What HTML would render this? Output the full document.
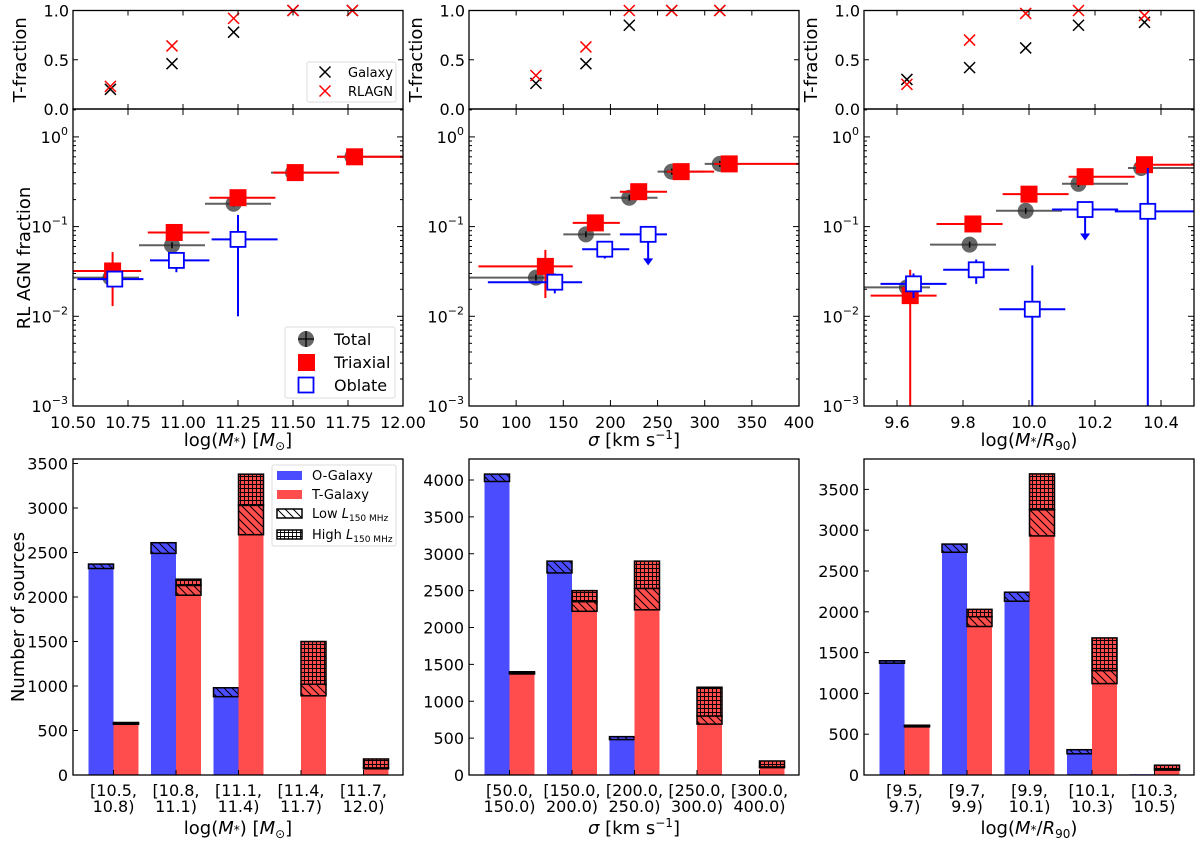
<!DOCTYPE html>
<html><head><meta charset="utf-8"><style>
body{margin:0;background:#fff}
svg{display:block;font-family:"DejaVu Sans","Liberation Sans",sans-serif}
</style></head><body>
<svg id="fig" width="1200" height="841" viewBox="0 0 1200 841" xmlns="http://www.w3.org/2000/svg">
<defs>
<pattern id="hatchD" patternUnits="userSpaceOnUse" width="8" height="8"><path d="M-2,-2 L10,10 M-2,6 L2,10 M6,-2 L10,2" stroke="#000" stroke-width="1"/></pattern>
<pattern id="hatchG" patternUnits="userSpaceOnUse" width="4" height="4"><path d="M0,0.5 H4 M0.5,0 V4" stroke="#000" stroke-width="0.9"/></pattern>
</defs>
<g id="root"></g>
</svg>
<script>
// ---------- data ----------
const tfX1=[10.67,10.95,11.23,11.5,11.77], tfGal1=[0.2,0.46,0.78,1.0,1.0], tfAgn1=[0.23,0.64,0.92,1.0,1.0];
const tfX2=[121,174,220,265,316], tfGal2=[0.26,0.46,0.85,1.0,1.0], tfAgn2=[0.34,0.63,1.0,1.0,1.0];
const tfX3=[9.63,9.82,9.99,10.15,10.35], tfGal3=[0.3,0.42,0.62,0.85,0.88], tfAgn3=[0.25,0.70,0.97,1.0,0.95];

// middle panels: x, y, xlo, xhi, ylo, yhi
const totX1=[10.67,10.95,11.23,11.5,11.77], totY1=[0.027,0.062,0.18,0.40,0.60], totXlo1=[10.5,10.8,11.1,11.4,11.7], totXhi1=[10.8,11.1,11.4,11.7,12.0];
const triX1=[10.68,10.96,11.25,11.51,11.78], triY1=[0.032,0.086,0.21,0.40,0.60], triXlo1=[10.5,10.84,11.12,11.41,11.7], triXhi1=[10.81,11.12,11.42,11.71,12.1], triYlo1=[0.013,0.075,0.19,0.37,0.52], triYhi1=[0.052,0.1,0.23,0.43,0.66];
const obX1=[10.69,10.97,11.25], obY1=[0.026,0.042,0.072], obXlo1=[10.52,10.85,11.13], obXhi1=[10.82,11.12,11.43], obYlo1=[0.024,0.031,0.01], obYhi1=[0.028,0.05,0.135], obUp1=[0,0,0];

const totX2=[121,174,220,265,316], totY2=[0.027,0.082,0.21,0.41,0.5], totXlo2=[50,150,200,250,300], totXhi2=[150,200,250,300,330];
const triX2=[131,184,230,275,326], triY2=[0.036,0.11,0.245,0.41,0.5], triXlo2=[60,160,210,260,310], triXhi2=[160,210,260,310,400], triYlo2=[0.016,0.1,0.23,0.39,0.46], triYhi2=[0.055,0.12,0.26,0.43,0.54];
const obX2=[141,194,240], obY2=[0.024,0.056,0.082], obXlo2=[70,170,210], obXhi2=[170,220,260], obYlo2=[0.018,0.044,0.037], obYhi2=[0.03,0.06,0.082], obUp2=[0,0,1];

const totX3=[9.63,9.82,9.99,10.15,10.34], totY3=[0.021,0.063,0.15,0.30,0.45], totXlo3=[9.5,9.7,9.9,10.1,10.3], totXhi3=[9.7,9.9,10.1,10.3,10.5];
const triX3=[9.64,9.83,10.0,10.17,10.35], triY3=[0.017,0.107,0.23,0.36,0.49], triXlo3=[9.52,9.72,9.92,10.12,10.32], triXhi3=[9.72,9.92,10.12,10.32,10.6], triYlo3=[0.0005,0.1,0.21,0.34,0.46], triYhi3=[0.033,0.115,0.25,0.38,0.52];
const obX3=[9.65,9.84,10.01,10.17,10.36], obY3=[0.023,0.033,0.012,0.155,0.148], obXlo3=[9.55,9.74,9.91,10.07,10.26], obXhi3=[9.75,9.94,10.11,10.27,10.6], obYlo3=[0.016,0.023,0.0005,0.07,0.0005], obYhi3=[0.03,0.043,0.037,0.155,0.45], obUp3=[0,0,0,1,0];

// bottom bar panels
const cats1=[["[10.5,","10.8)"],["[10.8,","11.1)"],["[11.1,","11.4)"],["[11.4,","11.7)"],["[11.7,","12.0)"]];
const oBase1=[2320,2490,880,0,0], oLow1=[50,120,100,0,0], tBase1=[570,2020,2700,890,70], tLow1=[10,110,330,130,10], tHigh1=[10,70,350,480,100];
const cats2=[["[50.0,","150.0)"],["[150.0,","200.0)"],["[200.0,","250.0)"],["[250.0,","300.0)"],["[300.0,","400.0)"]];
const oBase2=[3980,2740,480,5,5], oLow2=[100,160,40,0,0], tBase2=[1370,2220,2240,690,100], tLow2=[15,130,290,110,10], tHigh2=[15,150,370,390,80];
const cats3=[["[9.5,","9.7)"],["[9.7,","9.9)"],["[9.9,","10.1)"],["[10.1,","10.3)"],["[10.3,","10.5)"]];
const oBase3=[1370,2730,2130,260,10], oLow3=[30,100,110,50,0], tBase3=[590,1820,2930,1120,60], tLow3=[10,120,320,160,5], tHigh3=[10,90,440,400,55];

const xTicks1=[10.5,10.75,11.0,11.25,11.5,11.75,12.0], xTickLab1=["10.50","10.75","11.00","11.25","11.50","11.75","12.00"];
const xTicks2=[50,100,150,200,250,300,350,400], xTickLab2=["50","100","150","200","250","300","350","400"];
const xTicks3=[9.6,9.8,10.0,10.2,10.4], xTickLab3=["9.6","9.8","10.0","10.2","10.4"];
const barTicks1=[0,500,1000,1500,2000,2500,3000,3500];
const barTicks2=[0,500,1000,1500,2000,2500,3000,3500,4000];
const barTicks3=[0,500,1000,1500,2000,2500,3000,3500];

// ---------- layout ----------
const NS="http://www.w3.org/2000/svg";
const root=document.getElementById('root');
const X0=[73,469,864], W=330;
const XMIN=[10.5,50,9.5], XMAX=[12.0,400,10.5];
const TT=10.5, TB=109, MB=406, DEC=89.7, BT=459, BB=775;
const BSC=[0.089,0.07375,0.0816];
function el(tag,attrs,parent){const e=document.createElementNS(NS,tag);for(const k in attrs)e.setAttribute(k,attrs[k]);(parent||root).appendChild(e);return e;}
function txt(s,x,y,size,anchor,parent){const t=el('text',{x:x,y:y,'font-size':size,'text-anchor':anchor||'middle',fill:'#000'},parent);t.textContent=s;return t;}
function xs(c,v){return X0[c]+(v-XMIN[c])/(XMAX[c]-XMIN[c])*W;}
function ty(v){return TB-v*(TB-TT);}
function ly(v){return MB-(Math.log10(v)+3)*DEC;}
function by(c,v){return BB-v*BSC[c];}

const TF=[[tfX1,tfGal1,tfAgn1],[tfX2,tfGal2,tfAgn2],[tfX3,tfGal3,tfAgn3]];
const TOT=[[totX1,totY1,totXlo1,totXhi1],[totX2,totY2,totXlo2,totXhi2],[totX3,totY3,totXlo3,totXhi3]];
const TRI=[[triX1,triY1,triXlo1,triXhi1,triYlo1,triYhi1],[triX2,triY2,triXlo2,triXhi2,triYlo2,triYhi2],[triX3,triY3,triXlo3,triXhi3,triYlo3,triYhi3]];
const OB=[[obX1,obY1,obXlo1,obXhi1,obYlo1,obYhi1,obUp1],[obX2,obY2,obXlo2,obXhi2,obYlo2,obYhi2,obUp2],[obX3,obY3,obXlo3,obXhi3,obYlo3,obYhi3,obUp3]];
const XT=[[xTicks1,xTickLab1],[xTicks2,xTickLab2],[xTicks3,xTickLab3]];
const BARS=[[cats1,oBase1,oLow1,tBase1,tLow1,tHigh1,barTicks1],[cats2,oBase2,oLow2,tBase2,tLow2,tHigh2,barTicks2],[cats3,oBase3,oLow3,tBase3,tLow3,tHigh3,barTicks3]];

function cross(x,y,col,g){const s=5.5;el('path',{d:`M${x-s},${y-s}L${x+s},${y+s}M${x-s},${y+s}L${x+s},${y-s}`,stroke:col,'stroke-width':1.5,fill:'none'},g);}
function clipRect(id,x,y,w,h){const cp=el('clipPath',{id:id});el('rect',{x:x,y:y,width:w,height:h},cp);}

for(let c=0;c<3;c++){
  const x0=X0[c];
  // ----- top T-fraction panel -----
  clipRect('ct'+c,x0,TT-8,W,TB-TT+8);
  const gt=el('g',{});
  
  
  const gm=el('g',{'clip-path':`url(#ct${c})`},gt);
  const [tx,tg,ta]=TF[c];
  for(let i=0;i<tx.length;i++){
    const g1=el('g',{},gm);
    cross(xs(c,tx[i]),ty(tg[i]),'#000',g1);
    const g2=el('g',{},gm);
    cross(xs(c,tx[i]),ty(ta[i]),'#ff0000',g2);
  }
  el('rect',{x:x0,y:TT,width:W,height:TB-TT,fill:'none',stroke:'#000','stroke-width':1.3},gt);
  [0,0.5,1.0].forEach((v,i)=>{const y=ty(v);el('line',{x1:x0,y1:y,x2:x0+5,y2:y,stroke:'#000'},gt);el('line',{x1:x0+W,y1:y,x2:x0+W-5,y2:y,stroke:'#000'},gt);
    txt(['0.0','0.5','1.0'][i],x0-4,y+6,16,'end',gt);});
  XT[c][0].forEach(v=>{const x=xs(c,v);el('line',{x1:x,y1:TB,x2:x,y2:TB-5,stroke:'#000'},gt);el('line',{x1:x,y1:TT,x2:x,y2:TT+5,stroke:'#000'},gt);});
  const yl=txt('T-fraction',0,0,18,'middle',gt);yl.setAttribute('transform',`translate(${x0-47},${(TT+TB)/2}) rotate(-90)`);
  

  // ----- middle RL AGN panel -----
  clipRect('cm'+c,x0,TB,W,MB-TB);
  const gmid=el('g',{});
  
  
  const gc=el('g',{'clip-path':`url(#cm${c})`},gmid);
  // total
  const [ox,oy,oxl,oxh]=TOT[c];
  for(let i=0;i<ox.length;i++){
    const g=el('g',{},gc);
    const y=ly(oy[i]);
    el('line',{x1:xs(c,oxl[i]),y1:y,x2:xs(c,oxh[i]),y2:y,stroke:'#444','stroke-width':2,opacity:0.85},g);
    el('circle',{cx:xs(c,ox[i]),cy:y,r:8,fill:'#333',opacity:0.75},g);
    el('line',{x1:xs(c,ox[i]),y1:y-3,x2:xs(c,ox[i]),y2:y+3,stroke:'#000','stroke-width':1.5},g);
  }
  const [rx,ry,rxl,rxh,ryl,ryh]=TRI[c];
  for(let i=0;i<rx.length;i++){
    const g=el('g',{},gc);
    const x=xs(c,rx[i]),y=ly(ry[i]);
    el('line',{x1:xs(c,rxl[i]),y1:y,x2:xs(c,rxh[i]),y2:y,stroke:'#ff0000','stroke-width':2},g);
    el('line',{x1:x,y1:ly(ryl[i]),x2:x,y2:ly(ryh[i]),stroke:'#ff0000','stroke-width':2},g);
    el('rect',{x:x-8.5,y:y-8.5,width:17,height:17,fill:'#ff0000'},g);
  }
  const [bx,byy,bxl,bxh,byl,byh,bup]=OB[c];
  for(let i=0;i<bx.length;i++){
    const g=el('g',{},gc);
    const x=xs(c,bx[i]),y=ly(byy[i]);
    el('line',{x1:xs(c,bxl[i]),y1:y,x2:xs(c,bxh[i]),y2:y,stroke:'#0000ff','stroke-width':2},g);
    if(bup[i]){const yb=ly(byl[i]);
      el('line',{x1:x,y1:y,x2:x,y2:yb-6,stroke:'#0000ff','stroke-width':2},g);
      el('path',{d:`M${x-5},${yb-7}L${x+5},${yb-7}L${x},${yb}Z`,fill:'#0000ff'},g);
    } else el('line',{x1:x,y1:ly(byl[i]),x2:x,y2:ly(byh[i]),stroke:'#0000ff','stroke-width':2},g);
    el('rect',{x:x-7.5,y:y-7.5,width:15,height:15,fill:'#fff',stroke:'#0000ff','stroke-width':1.8},g);
  }
  el('rect',{x:x0,y:TB,width:W,height:MB-TB,fill:'none',stroke:'#000','stroke-width':1.3},gmid);
  for(let d=-3;d<=0;d++){
    const y=ly(Math.pow(10,d));
    el('line',{x1:x0,y1:y,x2:x0+6,y2:y,stroke:'#000'},gmid);el('line',{x1:x0+W,y1:y,x2:x0+W-6,y2:y,stroke:'#000'},gmid);
    const t=el('text',{x:x0-5,y:y+6,'font-size':16,'text-anchor':'end'},gmid);
    t.innerHTML='10<tspan dy="-8" font-size="11">'+(d<0?'\u2212'+(-d):'0')+'</tspan>';
    for(let m=2;m<=9;m++){const v=m*Math.pow(10,d);if(v>2.05)break;const ym=ly(v);
      el('line',{x1:x0,y1:ym,x2:x0+3,y2:ym,stroke:'#000'},gmid);el('line',{x1:x0+W,y1:ym,x2:x0+W-3,y2:ym,stroke:'#000'},gmid);}
  }
  XT[c][0].forEach((v,i)=>{const x=xs(c,v);el('line',{x1:x,y1:MB,x2:x,y2:MB-6,stroke:'#000'},gmid);el('line',{x1:x,y1:TB,x2:x,y2:TB+6,stroke:'#000'},gmid);
    txt(XT[c][1][i],x,MB+22,16,'middle',gmid);});
  // x titles
  const xt=el('text',{x:x0+W/2,y:446,'font-size':18,'text-anchor':'middle'},gmid);
  
  if(c===0) xt.innerHTML='log(<tspan font-style="italic">M</tspan><tspan font-size="12">*</tspan>) [<tspan font-style="italic">M</tspan><tspan font-size="12" dy="4">⊙</tspan><tspan dy="-4">]</tspan>';
  else if(c===1) xt.innerHTML='<tspan font-style="italic">σ</tspan> [km s<tspan dy="-7" font-size="12">−1</tspan><tspan dy="7">]</tspan>';
  else xt.innerHTML='log(<tspan font-style="italic">M</tspan><tspan font-size="12">*</tspan>/<tspan font-style="italic">R</tspan><tspan font-size="12" dy="4">90</tspan><tspan dy="-4">)</tspan>';

  // ----- bottom bar panel -----
  const [cats,oB,oL,tB,tL,tH,bt]=BARS[c];
  const gb=el('g',{});
  
  
  function seg(x,v0,v1,fill,pat,edge,name){
    if(v1<=v0) return;
    const y1=by(c,v1),y0=by(c,v0);
    const r=el('rect',{x:x,y:y1,width:25,height:y0-y1,fill:fill},gb);
    
    if(pat) el('rect',{x:x,y:y1,width:25,height:y0-y1,fill:`url(#${pat})`,stroke:'#000','stroke-width':1.5},gb);
  }
  for(let i=0;i<5;i++){
    const cx=x0+40.5+62.5*i;
    const xb=cx-25, xr=cx;
    seg(xb,0,oB[i],'#4c4cff',null,false,'o-galaxy-bar');
    seg(xb,oB[i],oB[i]+oL[i],'#4c4cff','hatchD',true,'o-galaxy-low-bar');
    seg(xr,0,tB[i],'#ff4c4c',null,false,'t-galaxy-bar');
    seg(xr,tB[i],tB[i]+tL[i],'#ff4c4c','hatchD',true,'t-galaxy-low-bar');
    seg(xr,tB[i]+tL[i],tB[i]+tL[i]+tH[i],'#ff4c4c','hatchG',true,'t-galaxy-high-bar');
    el('line',{x1:cx,y1:BB,x2:cx,y2:BB-5,stroke:'#000'},gb);
    txt(cats[i][0],cx,BB+21,16,'middle',gb);txt(cats[i][1],cx,BB+37,16,'middle',gb);
  }
  el('rect',{x:x0,y:BT,width:W,height:BB-BT,fill:'none',stroke:'#000','stroke-width':1.3},gb);
  bt.forEach(v=>{const y=by(c,v);el('line',{x1:x0,y1:y,x2:x0+5,y2:y,stroke:'#000'},gb);txt(String(v),x0-5,y+6,16,'end',gb);});
  const bx2=el('text',{x:x0+W/2,y:834,'font-size':18,'text-anchor':'middle'},gb);
  
  bx2.innerHTML=xt.innerHTML;
}
// y titles
let t=txt('RL AGN fraction',0,0,18,'middle');t.setAttribute('transform','translate(30,258) rotate(-90)');

t=txt('Number of sources',0,0,18,'middle');t.setAttribute('transform','translate(24,617) rotate(-90)');


// legends
let lg=el('g',{});
el('rect',{x:307,y:62,width:89,height:40,fill:'#fff',stroke:'#ddd',rx:2},lg);
cross(325,72,'#000',lg);txt('Galaxy',348,77,13,'start',lg);
cross(325,91,'#ff0000',lg);txt('RLAGN',348,96,13,'start',lg);

lg=el('g',{});
el('rect',{x:285,y:327,width:110,height:71,fill:'#fff',stroke:'#ddd',rx:2},lg);
el('circle',{cx:306,cy:339,r:8,fill:'#333',opacity:0.75},lg);
el('path',{d:'M306,331V347M298,339H314',stroke:'#000','stroke-width':1.3},lg);
txt('Total',334,345,16,'start',lg);
el('rect',{x:298,y:354,width:17,height:17,fill:'#ff0000'},lg);txt('Triaxial',334,368,16,'start',lg);
el('rect',{x:298.5,y:377.5,width:15,height:15,fill:'#fff',stroke:'#0000ff','stroke-width':1.8},lg);txt('Oblate',334,391,16,'start',lg);

lg=el('g',{});
el('rect',{x:272,y:465,width:124,height:81,fill:'#fff',stroke:'#ddd',rx:2},lg);
el('rect',{x:277,y:471,width:25,height:9,fill:'#4c4cff'},lg);txt('O-Galaxy',312,480,13,'start',lg);
el('rect',{x:277,y:490,width:25,height:9,fill:'#ff4c4c'},lg);txt('T-Galaxy',312,499,13,'start',lg);
el('rect',{x:277,y:509,width:25,height:9,fill:'url(#hatchD)',stroke:'#000','stroke-width':1.5},lg);
let lt=el('text',{x:312,y:518,'font-size':13},lg);lt.innerHTML='Low <tspan font-style="italic">L</tspan><tspan font-size="9" dy="3">150 MHz</tspan>';
el('rect',{x:277,y:530,width:25,height:9,fill:'url(#hatchG)',stroke:'#000','stroke-width':1.5},lg);
lt=el('text',{x:312,y:539,'font-size':13},lg);lt.innerHTML='High <tspan font-style="italic">L</tspan><tspan font-size="9" dy="3">150 MHz</tspan>';
</script>
</body></html>
